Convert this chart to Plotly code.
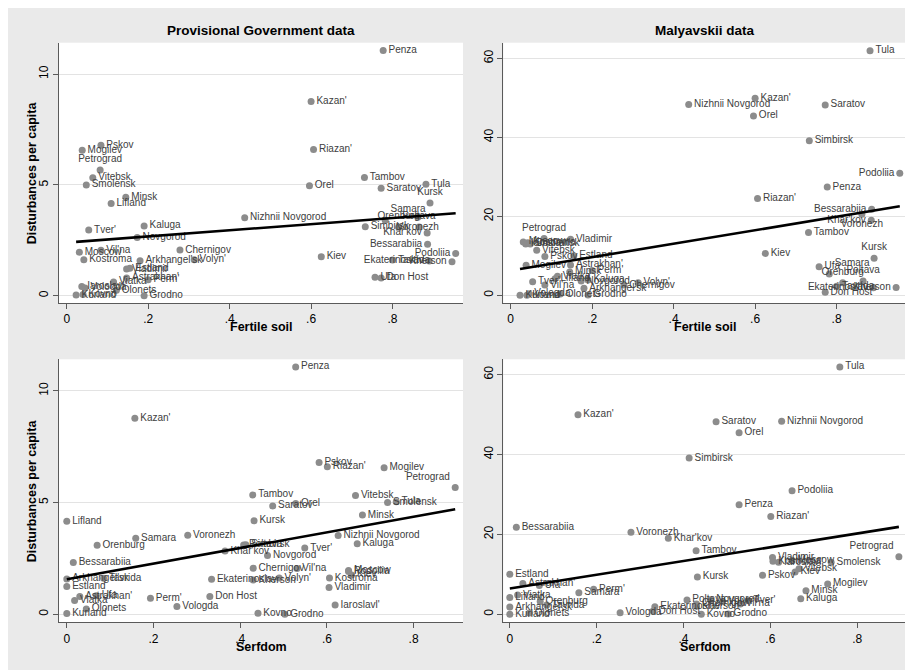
import numpy as np
import plotly.graph_objects as go

provinces = ["Arkhangel'sk", "Astrakhan'", "Bessarabiia", "Chernigov", "Don Host", "Ekaterinoslav",
             "Estland", "Grodno", "Iaroslavl'", "Kaluga", "Kazan'", "Khar'kov", "Kherson", "Kiev",
             "Kostroma", "Kovno", "Kurland", "Kursk", "Lifland", "Minsk", "Mogilev", "Moscow",
             "Nizhnii Novgorod", "Novgorod", "Olonets", "Orel", "Orenburg", "Penza", "Perm'",
             "Petrograd", "Podoliia", "Poltava", "Pskov", "Riazan'", "Samara", "Saratov", "Simbirsk",
             "Smolensk", "Tambov", "Tavrida", "Tula", "Tver'", "Ufa", "Viatka", "Vil'na", "Vitebsk",
             "Vladimir", "Volyn'", "Vologda", "Voronezh"]

fertile = [0.180, 0.147, 0.886, 0.278, 0.772, 0.890, 0.155, 0.190, 0.037, 0.190, 0.600, 0.885, 0.946, 0.625,
           0.042, 0.040, 0.023, 0.892, 0.109, 0.145, 0.038, 0.031, 0.437, 0.173, 0.122, 0.596, 0.815, 0.777,
           0.200, 0.082, 0.955, 0.865, 0.084, 0.606, 0.782, 0.772, 0.733, 0.048, 0.731, 0.800, 0.882, 0.054,
           0.757, 0.115, 0.084, 0.064, 0.147, 0.313, 0.045, 0.862]

serfdom = [0.000, 0.030, 0.015, 0.430, 0.330, 0.334, 0.000, 0.503, 0.619, 0.670, 0.157, 0.365, 0.430, 0.657,
           0.606, 0.441, 0.000, 0.432, 0.000, 0.682, 0.732, 0.650, 0.626, 0.463, 0.045, 0.528, 0.070, 0.528,
           0.193, 0.896, 0.650, 0.408, 0.582, 0.601, 0.159, 0.475, 0.413, 0.740, 0.429, 0.085, 0.760, 0.549,
           0.068, 0.018, 0.531, 0.666, 0.605, 0.490, 0.254, 0.279]

dist_pg = [1.58, 0.80, 2.32, 2.06, 0.80, 1.57, 1.24, 0.00, 0.41, 3.15, 8.77, 2.83, 1.53, 1.76,
           1.62, 0.05, 0.03, 4.18, 4.16, 4.44, 6.56, 1.96, 3.52, 2.63, 0.24, 4.96, 3.09, 11.07,
           0.72, 5.67, 1.91, 3.10, 6.79, 6.60, 3.40, 4.85, 3.11, 5.00, 5.34, 1.61, 5.03, 2.96,
           0.83, 0.62, 2.05, 5.32, 1.20, 1.62, 0.35, 3.54]

dist_mal = [1.8, 7.7, 21.8, 2.6, 0.8, 1.9, 10.0, 0.1, 13.0, 3.9, 49.9, 19.0, 2.0, 10.6,
            13.3, 0.0, 0.0, 9.35, 4.2, 5.9, 7.6, 13.5, 48.3, 3.6, 0.3, 45.4, 3.2, 27.4,
            6.3, 14.4, 30.9, 3.6, 9.8, 24.5, 5.4, 48.2, 39.1, 13.0, 15.9, 2.3, 61.9, 3.45,
            7.2, 4.8, 2.6, 11.4, 14.2, 3.2, 0.4, 20.5]

panel_titles = ["Provisional Government data", "Malyavskii data"]
x_titles = ["Fertile soil", "Serfdom"]
y_title = "Disturbances per capita"
x_tickvals = [0, 0.2, 0.4, 0.6, 0.8]
x_ticktext = ["0", ".2", ".4", ".6", ".8"]
pg_ticks = [0, 5, 10]
mal_ticks = [0, 20, 40, 60]

# label placement (styling)
top_label_pos = {"Petrograd": "top center", "Kursk": "top center", "Samara": "top right",
                 "Orenburg": "top center", "Poltava": "top center", "Voronezh": "bottom center",
                 "Khar'kov": "middle left", "Podoliia": "middle left", "Bessarabiia": "middle left",
                 "Kherson": "middle left", "Ekaterinoslav": "middle left"}
bottom_label_pos = {"Petrograd": "top left"}

W, H = 913, 670
OFF = 8  # page body margin offset (screen px -> figure px)
FONT = "Liberation Sans, Arial, sans-serif"
GRAY_BG = "#EAEAEA"
MARKER = "#8c8c8c"
LABEL = "#404040"
AXIS = "#5a5a5a"

def dom_x(a, b):
    return [(a - OFF) / W, (b - OFF) / W]

def dom_y(top, bottom):
    return [1 - (bottom - OFF) / H, 1 - (top - OFF) / H]

panels = [
    dict(x=fertile, y=dist_pg, xr=[-0.019, 0.973], yr=[-0.33, 11.42], yt=pg_ticks,
         dx=dom_x(59, 463), dy=dom_y(42.7, 303), pos=top_label_pos),
    dict(x=fertile, y=dist_mal, xr=[-0.018, 0.972], yr=[-1.95, 63.95], yt=mal_ticks,
         dx=dom_x(503.3, 906.7), dy=dom_y(42.7, 303), pos=top_label_pos),
    dict(x=serfdom, y=dist_pg, xr=[-0.018, 0.914], yr=[-0.36, 11.41], yt=pg_ticks,
         dx=dom_x(59, 463), dy=dom_y(359.3, 622.3), pos=bottom_label_pos),
    dict(x=serfdom, y=dist_mal, xr=[-0.015, 0.914], yr=[-2.0, 63.8], yt=mal_ticks,
         dx=dom_x(503.3, 906.7), dy=dom_y(359.3, 622.3), pos=bottom_label_pos),
]

fig = go.Figure()
layout = {}
for i, p in enumerate(panels):
    k = "" if i == 0 else str(i + 1)
    xa, ya = "x" + k, "y" + k
    xs = np.array(p["x"], dtype=float)
    ys = np.array(p["y"], dtype=float)
    positions = [p["pos"].get(n, "middle right") for n in provinces]
    fig.add_trace(go.Scatter(
        x=xs, y=ys, mode="markers+text", text=provinces, textposition=positions,
        marker=dict(size=7, color=MARKER), textfont=dict(size=10, color=LABEL, family=FONT),
        xaxis=xa, yaxis=ya, cliponaxis=False, showlegend=False, hoverinfo="text"))
    slope, intercept = np.polyfit(xs, ys, 1)
    lx = np.array([xs.min(), xs.max()])
    fig.add_trace(go.Scatter(
        x=lx, y=intercept + slope * lx, mode="lines", line=dict(color="black", width=2.6),
        xaxis=xa, yaxis=ya, showlegend=False, hoverinfo="skip"))
    layout["xaxis" + k] = dict(
        domain=p["dx"], range=p["xr"], anchor=ya, tickvals=x_tickvals, ticktext=x_ticktext,
        showgrid=False, zeroline=False, showline=True, linecolor=AXIS, linewidth=1,
        ticks="outside", ticklen=5, tickcolor=AXIS, tickfont=dict(size=12, color="black", family=FONT))
    layout["yaxis" + k] = dict(
        domain=p["dy"], range=p["yr"], anchor=xa, tickvals=p["yt"], tickangle=-90,
        showgrid=True, gridcolor="#e3e3e3", gridwidth=1, zeroline=False, showline=True,
        linecolor=AXIS, linewidth=1, ticks="outside", ticklen=5, tickcolor=AXIS,
        tickfont=dict(size=12, color="black", family=FONT))

annotations = []
bold = dict(family=FONT, color="black")

def ann(text, px, py, size, angle=0):
    return dict(text="<b>%s</b>" % text, x=(px - OFF) / W, y=1 - (py - OFF) / H, xref="paper",
                yref="paper", xanchor="center", yanchor="middle", showarrow=False, textangle=angle,
                font=dict(size=size, **bold))

annotations.append(ann(panel_titles[0], (59 + 463) / 2, 31, 13.5))
annotations.append(ann(panel_titles[1], (503.3 + 906.7) / 2, 31, 13.5))
for cx in [(59 + 463) / 2, (503.3 + 906.7) / 2]:
    annotations.append(ann(x_titles[0], cx, 327, 12.5))
    annotations.append(ann(x_titles[1], cx, 647, 12.5))
for cy in [(42.7 + 303) / 2, (359.3 + 622.3) / 2]:
    annotations.append(ann(y_title, 31.5, cy, 12.5, -90))

fig.update_layout(
    width=W, height=H, margin=dict(l=0, r=0, t=0, b=0), paper_bgcolor=GRAY_BG, plot_bgcolor="white",
    font=dict(family=FONT), annotations=annotations, **layout)

fig.write_html("out.html")
